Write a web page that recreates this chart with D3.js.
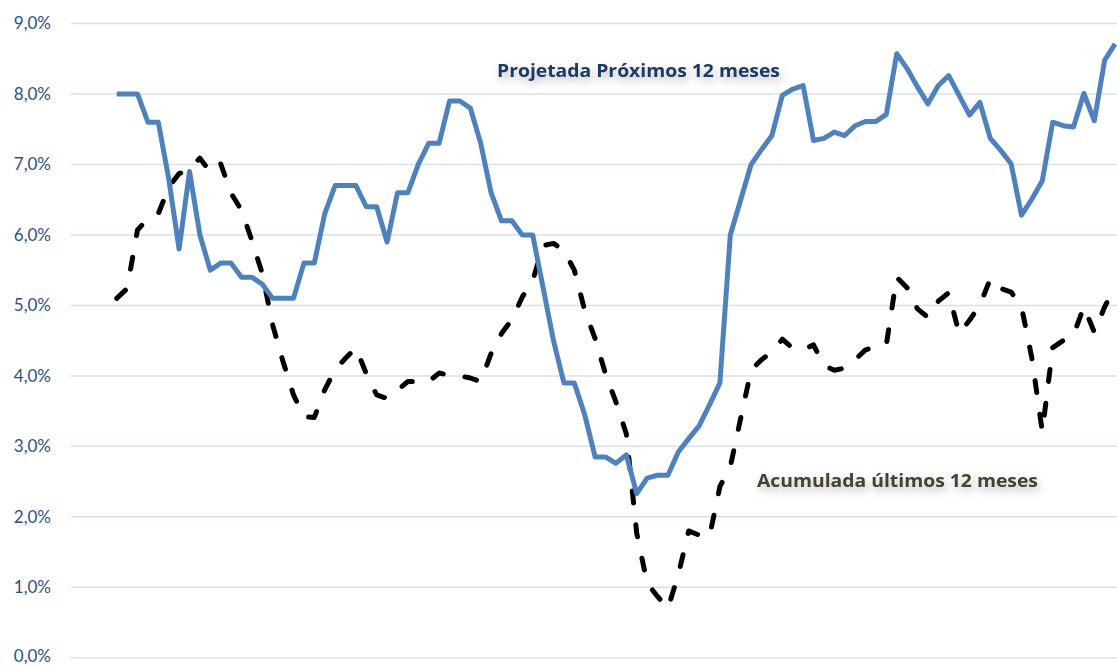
<!DOCTYPE html>
<html>
<head>
<meta charset="utf-8">
<script src="https://cdn.jsdelivr.net/npm/d3@7/dist/d3.min.js"></script>
<style>
  html, body { margin: 0; padding: 0; background: #fff; }
  svg { display: block; }
</style>
</head>
<body>
<svg id="chart" width="1117" height="666"></svg>
<script>
// ---- Data (monthly, % values) ----
const projetada = [
  8.0, 8.0, 8.0, 7.6, 7.6, 6.8, 5.8, 6.9, 6.0, 5.5,
  5.6, 5.6, 5.4, 5.4, 5.3, 5.1, 5.1, 5.1, 5.6, 5.6,
  6.3, 6.7, 6.7, 6.7, 6.4, 6.4, 5.9, 6.6, 6.6, 7.0,
  7.3, 7.3, 7.9, 7.9, 7.8, 7.3, 6.6, 6.2, 6.2, 6.0,
  6.0, 5.25, 4.5, 3.9, 3.9, 3.45, 2.85, 2.85, 2.76, 2.88,
  2.33, 2.55, 2.59, 2.59, 2.92, 3.11, 3.29, 3.59, 3.9, 6.0,
  6.5, 7.0, 7.21, 7.41, 7.98, 8.07, 8.12, 7.34, 7.37, 7.46,
  7.41, 7.55, 7.61, 7.61, 7.71, 8.57, 8.36, 8.1, 7.86, 8.12,
  8.26, 7.98, 7.7, 7.88, 7.37, 7.2, 7.01, 6.28, 6.51, 6.77,
  7.6, 7.55, 7.53, 8.01, 7.62, 8.48, 8.71
];
const acumulada = [
  5.1, 5.24, 6.07, 6.23, 6.3, 6.68, 6.87, 6.93, 7.09, 6.89,
  7.01, 6.59, 6.35, 5.92, 5.45, 4.72, 4.2, 3.73, 3.42, 3.41,
  3.8, 4.09, 4.25, 4.4, 4.03, 3.73, 3.68, 3.8, 3.92, 3.92,
  3.92, 4.04, 4.01, 4.0, 3.97, 3.92, 4.32, 4.6, 4.8, 5.12,
  5.35, 5.85, 5.88, 5.78, 5.5, 4.93, 4.53, 4.03, 3.63, 3.18,
  1.77, 1.06, 0.87, 0.7, 1.18, 1.8, 1.74, 1.72, 2.43, 2.71,
  3.4, 4.08, 4.23, 4.34, 4.52, 4.39, 4.37, 4.44, 4.15, 4.08,
  4.11, 4.23, 4.37, 4.41, 4.44, 5.4, 5.25, 4.95, 4.83, 5.06,
  5.18, 4.6, 4.79, 5.0, 5.38, 5.24, 5.19, 4.98, 4.25, 3.21,
  4.4, 4.5, 4.58, 4.98, 4.62, 4.98, 5.28
];
const months = d3.range(projetada.length); // month index
const yTicks = [0, 1, 2, 3, 4, 5, 6, 7, 8, 9];
const labelProjetada = "Projetada Próximos 12 meses";
const labelAcumulada = "Acumulada últimos 12 meses";

// ---- Layout ----
const svg = d3.select("#chart");
const gridLeft = 71, gridRight = 1117;
const x = d3.scaleLinear().domain([0, months.length - 1]).range([116.7, 1115.1]);
const y = d3.scaleLinear().domain([0, 9]).range([657.8, 23.5]);

const defs = svg.append("defs");
const f = defs.append("filter").attr("id", "shadow")
  .attr("x", "-10%").attr("y", "-60%").attr("width", "120%").attr("height", "220%");
f.append("feDropShadow").attr("dx", 2).attr("dy", 4).attr("stdDeviation", 4)
  .attr("flood-color", "#000").attr("flood-opacity", 0.28);

// Gridlines
svg.append("g").selectAll("line").data(yTicks).join("line")
  .attr("x1", gridLeft).attr("x2", gridRight)
  .attr("y1", d => y(d)).attr("y2", d => y(d))
  .attr("stroke", "#d5e0f1").attr("stroke-width", 1.5);

// Y axis labels
const fmt = d => d.toFixed(1).replace(".", ",") + "%";
const yAxis = d3.axisLeft(y).tickValues(yTicks).tickFormat(fmt).tickSize(0).tickPadding(0);
const ga = svg.append("g").attr("transform", "translate(51,0)").call(yAxis);
ga.select(".domain").remove();
ga.selectAll("text")
  .attr("font-family", "Lato, 'Open Sans', sans-serif")
  .attr("font-size", 17)
  .attr("fill", "#2d4f86")
  .attr("dy", d => d === 0 ? "0.2em" : "0.32em");

// Lines
const line = d3.line().x((d, i) => x(months[i])).y(d => y(d));

svg.append("path").datum(acumulada)
  .attr("d", line)
  .attr("fill", "none")
  .attr("stroke", "#000")
  .attr("stroke-width", 5)
  .attr("stroke-linecap", "round")
  .attr("stroke-linejoin", "round")
  .attr("stroke-dasharray", "12 22");

svg.append("path").datum(projetada)
  .attr("d", line)
  .attr("fill", "none")
  .attr("stroke", "#4f81bd")
  .attr("stroke-width", 5)
  .attr("stroke-linejoin", "round");

// Series labels
svg.append("text")
  .attr("x", 497).attr("y", 77)
  .attr("font-family", "'Open Sans', 'Noto Sans', sans-serif")
  .attr("font-weight", "bold").attr("font-size", 17)
  .attr("fill", "#1f3a64")
  .attr("textLength", 283).attr("lengthAdjust", "spacingAndGlyphs")
  .attr("filter", "url(#shadow)")
  .text(labelProjetada);

svg.append("text")
  .attr("x", 757).attr("y", 487)
  .attr("font-family", "'Open Sans', 'Noto Sans', sans-serif")
  .attr("font-weight", "bold").attr("font-size", 17)
  .attr("fill", "#47432e")
  .attr("textLength", 281).attr("lengthAdjust", "spacingAndGlyphs")
  .attr("filter", "url(#shadow)")
  .text(labelAcumulada);
</script>
</body>
</html>
